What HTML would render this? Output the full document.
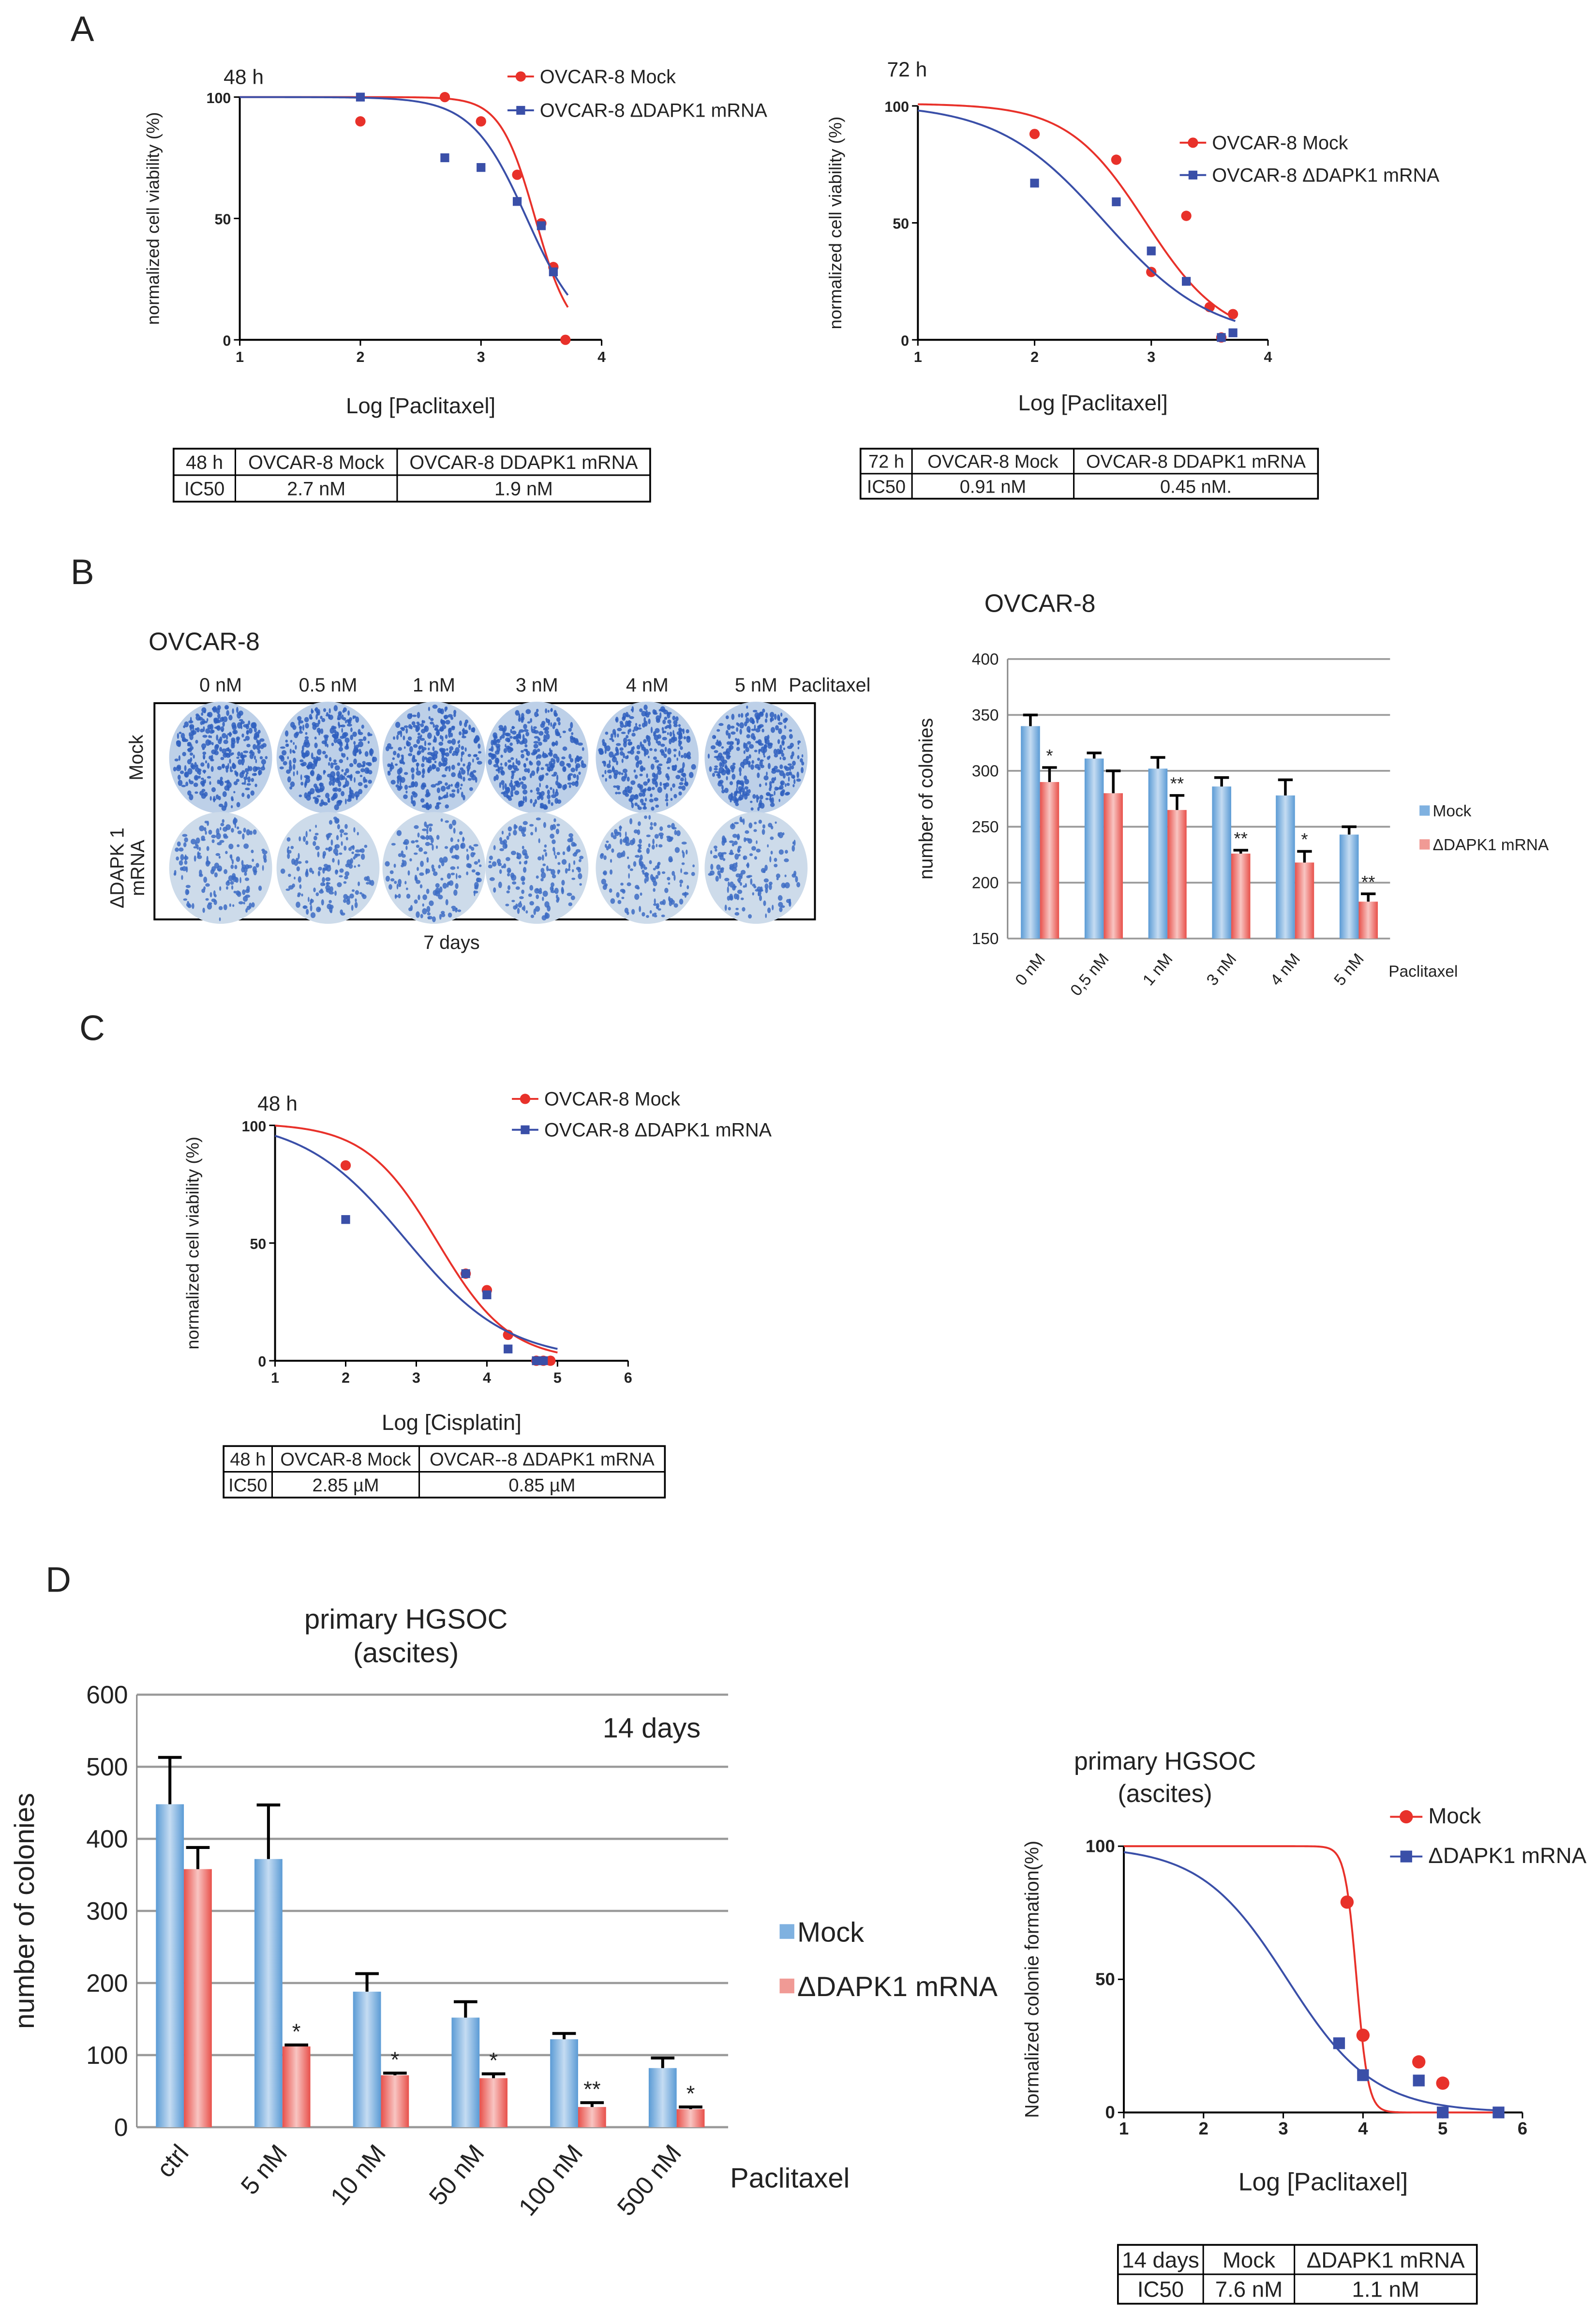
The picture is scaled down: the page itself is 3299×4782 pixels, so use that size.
<!DOCTYPE html>
<html><head><meta charset="utf-8"><style>
html,body{margin:0;padding:0;background:#fff}
svg{display:block}
text{font-family:"Liberation Sans",Arial,sans-serif;fill:#222}
</style></head><body>
<svg id="fig" xmlns="http://www.w3.org/2000/svg" width="3299" height="4782" viewBox="0 0 1085 1573" preserveAspectRatio="none"></svg>
<script>
// ---------- DATA ----------
const aLeftX=[2,2.7,3,3.3,3.5,3.6,3.7];
const aLeftMock=[90,100,90,68,48,30,0];
const aLeftBlueX=[2,2.7,3,3.3,3.5,3.6];
const aLeftBlue=[100,75,71,57,47,28];
const aRightX=[2,2.7,3,3.3,3.5,3.6,3.7];
const aRightMock=[88,77,29,53,14,1,11];
const aRightBlueX=[2,2.7,3,3.3,3.6,3.7];
const aRightBlue=[67,59,38,25,1,3];
const cMockX=[2,3.7,4,4.3,4.7,4.8,4.9];
const cMock=[83,37,30,11,0,0,0];
const cBlueX=[2,3.7,4,4.3,4.7,4.8];
const cBlue=[60,37,28,5,0,0];
const dRMockX=[3.8,4,4.7,5];
const dRMock=[79,29,19,11];
const dRBlueX=[3.7,4,4.7,5,5.7];
const dRBlue=[26,14,12,0,0];
const bCats=["0 nM","0,5 nM","1 nM","3 nM","4 nM","5 nM"];
const bMock=[340,311,302,286,278,243];
const bMockErr=[10,5,10,8,14,7];
const bDel=[290,280,265,226,218,183];
const bDelErr=[13,20,13,3,10,7];
const bStars=["*","","**","**","*","**"];
const bTicks=[150,200,250,300,350,400];
const dCats=["ctrl","5 nM","10 nM","50 nM","100 nM","500 nM"];
const dMock=[448,372,188,152,122,82];
const dMockErr=[65,75,25,22,8,14];
const dDel=[358,112,72,68,28,25];
const dDelErr=[30,2,3,6,6,3];
const dStars=["","*","*","*","**","*"];
const dTicks=[0,100,200,300,400,500,600];

const NS="http://www.w3.org/2000/svg";
const svg=document.getElementById('fig');
const RED="#e8312a", BLUE="#3a4fa8";
function mk(tag,attrs,parent){const e=document.createElementNS(NS,tag);for(const k in attrs)e.setAttribute(k,attrs[k]);(parent||svg).appendChild(e);return e;}
function txt(x,y,s,size,anchor,parent){const t=mk('text',{x:x,y:y,'font-size':size,'text-anchor':anchor||'start'},parent);t.textContent=s;return t;}

const defs=mk('defs',{});
function grad(id,c1,c2){const g=mk('linearGradient',{id:id,x1:0,y1:0,x2:1,y2:0},defs);mk('stop',{offset:0,'stop-color':c1},g);mk('stop',{offset:0.5,'stop-color':c2},g);mk('stop',{offset:1,'stop-color':c1},g);}
grad('gb','#5b9bd5','#c5dcf2');grad('gr','#e8504a','#f8c5c2');

[["A",48,28],["B",48,397],["C",54,707],["D",31,1082]].forEach(p=>{const t=txt(p[1],p[2],p[0],24);

});

function doseplot(o){
  const g=mk('g',{});
  
  
  const sx=v=>o.x0+(v-o.xmin)*(o.x1-o.x0)/(o.xmax-o.xmin);
  const sy=v=>o.y0-(v)*(o.y0-o.y100)/100;
  mk('line',{x1:o.x0,y1:o.y0,x2:o.x1,y2:o.y0,stroke:'#000','stroke-width':1.3},g);
  mk('line',{x1:o.x0,y1:o.y0,x2:o.x0,y2:o.y100,stroke:'#000','stroke-width':1.3},g);
  for(let v=o.xmin;v<=o.xmax;v++){mk('line',{x1:sx(v),y1:o.y0,x2:sx(v),y2:o.y0+4,stroke:'#000'},g);
    const t=txt(sx(v),o.y0+15,String(v),o.fs,'middle',g);t.setAttribute('font-weight','bold');
    
    }
  [0,50,100].forEach(v=>{mk('line',{x1:o.x0-4,y1:sy(v),x2:o.x0,y2:sy(v),stroke:'#000'},g);
    const t=txt(o.x0-6,sy(v)+4,String(v),o.fs,'end',g);t.setAttribute('font-weight','bold');
    
    });
  const yl=txt(0,0,o.ylabel,o.yfs,'middle',g);yl.setAttribute('transform',`translate(${o.ylx},${(o.y0+o.y100)/2}) rotate(-90)`);
  
  
  const xl=txt((o.x0+o.x1)/2,o.xly,o.xlabel,o.xfs,'middle',g);
  
  
  if(o.title){const tt=txt(o.tx,o.ty,o.title,o.tfs,'start',g);
    
    }
  o.series.forEach(s=>{
    let d='';for(let i=0;i<=200;i++){const x=o.xmin+(s.cx-o.xmin)*i/200;const y=s.top/(1+Math.pow(10,(x-s.ic)*s.h));d+=(i?'L':'M')+sx(x).toFixed(2)+','+sy(y).toFixed(2);}
    const p=mk('path',{d:d,fill:'none',stroke:s.color,'stroke-width':1.3},g);
    
    
    s.xs.forEach((x,i)=>{let m;
      if(s.shape==='c'){m=mk('circle',{cx:sx(x),cy:sy(s.ys[i]),r:o.ms/2+0.5,fill:s.color},g);}
      else{m=mk('rect',{x:sx(x)-o.ms/2,y:sy(s.ys[i])-o.ms/2,width:o.ms,height:o.ms,fill:s.color},g);}
      
      });
    const lg=mk('g',{},g);
    
    
    mk('line',{x1:s.lx,y1:s.ly,x2:s.lx+o.lw,y2:s.ly,stroke:s.color,'stroke-width':1.3},lg);
    if(s.shape==='c')mk('circle',{cx:s.lx+o.lw/2,cy:s.ly,r:o.ms/2+0.5,fill:s.color},lg);
    else mk('rect',{x:s.lx+o.lw/2-o.ms/2,y:s.ly-o.ms/2,width:o.ms,height:o.ms,fill:s.color},lg);
    txt(s.lx+o.lw+4,s.ly+4.5,s.label,o.lfs,'start',lg);
  });
}

doseplot({name:'panel-a-48h-chart',x0:163,x1:409,xmin:1,xmax:4,y0:231,y100:66,fs:10,ylabel:'normalized cell viability (%)',yfs:12,ylx:108,xlabel:'Log [Paclitaxel]',xfs:15,xly:281,title:'48 h',tx:152,ty:57,tfs:14,ms:6,lw:18,lfs:13,
 series:[{key:'mock',xs:aLeftX,ys:aLeftMock,color:RED,shape:'c',ic:3.45,h:3,top:100,cx:3.72,lx:345,ly:52,label:'OVCAR-8 Mock'},
         {key:'dapk1',xs:aLeftBlueX,ys:aLeftBlue,color:BLUE,shape:'s',ic:3.38,h:1.9,top:100,cx:3.72,lx:345,ly:75,label:'OVCAR-8 ΔDAPK1 mRNA'}]});
doseplot({name:'panel-a-72h-chart',x0:624,x1:862,xmin:1,xmax:4,y0:231,y100:72,fs:10,ylabel:'normalized cell viability (%)',yfs:12,ylx:572,xlabel:'Log [Paclitaxel]',xfs:15,xly:279,title:'72 h',tx:603,ty:52,tfs:14,ms:6,lw:18,lfs:13,
 series:[{key:'mock',xs:aRightX,ys:aRightMock,color:RED,shape:'c',ic:2.95,h:1.3,top:101,cx:3.72,lx:802,ly:97,label:'OVCAR-8 Mock'},
         {key:'dapk1',xs:aRightBlueX,ys:aRightBlue,color:BLUE,shape:'s',ic:2.6,h:0.95,top:101,cx:3.72,lx:802,ly:119,label:'OVCAR-8 ΔDAPK1 mRNA'}]});
doseplot({name:'panel-c-cisplatin-chart',x0:187,x1:427,xmin:1,xmax:6,y0:925,y100:765,fs:10,ylabel:'normalized cell viability (%)',yfs:12,ylx:135,xlabel:'Log [Cisplatin]',xfs:15,xly:972,title:'48 h',tx:175,ty:755,tfs:14,ms:6,lw:18,lfs:13,
 series:[{key:'mock',xs:cMockX,ys:cMock,color:RED,shape:'c',ic:3.3,h:0.85,top:101,cx:5,lx:348,ly:747,label:'OVCAR-8 Mock'},
         {key:'dapk1',xs:cBlueX,ys:cBlue,color:BLUE,shape:'s',ic:2.85,h:0.6,top:103,cx:5,lx:348,ly:768,label:'OVCAR-8 ΔDAPK1 mRNA'}]});
doseplot({name:'panel-d-dose-chart',x0:764,x1:1035,xmin:1,xmax:6,y0:1436,y100:1255,fs:12,ylabel:'Normalized colonie formation(%)',yfs:13,ylx:706,xlabel:'Log [Paclitaxel]',xfs:17,xly:1489,title:null,ms:8,lw:22,lfs:15,
 series:[{key:'mock',xs:dRMockX,ys:dRMock,color:RED,shape:'c',ic:3.92,h:6,top:100,cx:5.7,lx:945,ly:1235,label:'Mock'},
         {key:'dapk1',xs:dRBlueX,ys:dRBlue,color:BLUE,shape:'s',ic:3.05,h:0.8,top:100,cx:5.7,lx:945,ly:1262,label:'ΔDAPK1 mRNA'}]});
[["primary HGSOC",792,1203],["(ascites)",792,1225]].forEach(a=>{const t=txt(a[1],a[2],a[0],17,'middle');

});

function table(name,x,y,cols,rows,rh,fs){
  const g=mk('g',{});
  
  
  const w=cols[cols.length-1]-x;
  mk('rect',{x:x,y:y,width:w,height:rh*2,fill:'none',stroke:'#000','stroke-width':1.2},g);
  mk('line',{x1:x,y1:y+rh,x2:x+w,y2:y+rh,stroke:'#000','stroke-width':1},g);
  let xs=[x].concat(cols);
  for(let i=0;i<cols.length-1;i++)mk('line',{x1:cols[i],y1:y,x2:cols[i],y2:y+rh*2,stroke:'#000'},g);
  rows.forEach((r,ri)=>r.forEach((c,ci)=>{txt((xs[ci]+xs[ci+1])/2,y+rh*ri+rh/2+fs*0.36,c,fs,'middle',g);}));
}
table('panel-a-48h-ic50-table',118,305,[160,270,442],[["48 h","OVCAR-8 Mock","OVCAR-8 DDAPK1 mRNA"],["IC50","2.7 nM","1.9 nM"]],18,13);
table('panel-a-72h-ic50-table',585,305,[620,730,896],[["72 h","OVCAR-8 Mock","OVCAR-8 DDAPK1 mRNA"],["IC50","0.91 nM","0.45 nM."]],17,12.5);
table('panel-c-ic50-table',152,983,[185,285,452],[["48 h","OVCAR-8 Mock","OVCAR--8 ΔDAPK1 mRNA"],["IC50","2.85 µM","0.85 µM"]],17.5,12.5);
table('panel-d-ic50-table',760,1526,[818,880,1004],[["14 days","Mock","ΔDAPK1 mRNA"],["IC50","7.6 nM","1.1 nM"]],20,15);

(function(){
  const g=mk('g',{});
  
  
  mk('rect',{x:105,y:478,width:449,height:147,fill:'#fff',stroke:'#000','stroke-width':1.3},g);
  const cx=[150,223,295,365,440,514];const cy=[515,590];
  const lbl=["0 nM","0.5 nM","1 nM","3 nM","4 nM","5 nM"];
  let seed=7;const rnd=()=>{seed=(seed*16807)%2147483647;return seed/2147483647;};
  cy.forEach((yy,ri)=>cx.forEach((xx,ci)=>{
    const d=mk('g',{},g);
    
    
    mk('ellipse',{cx:xx,cy:yy,rx:35,ry:38,fill:ri?'#cddbea':'#bdd0e8'},d);
    const n=ri?160:300;
    for(let k=0;k<n;k++){const a=rnd()*6.283,r=Math.sqrt(rnd())*0.95;
      mk('ellipse',{cx:(xx+Math.cos(a)*r*34).toFixed(1),cy:(yy+Math.sin(a)*r*37).toFixed(1),rx:(0.6+rnd()*1.2).toFixed(1),ry:(0.8+rnd()*1.4).toFixed(1),fill:ri?'#3d6cc4':'#2f5fbe','fill-opacity':0.85},d);}
  }));
  lbl.forEach((l,i)=>{const t=txt(cx[i],470,l,13,'middle',g);
    
    });
  txt(564,470,'Paclitaxel',13,'middle',g);
  txt(101,442,'OVCAR-8',17,'start',g);
  txt(307,645,'7 days',13,'middle',g);
  const m=txt(0,0,'Mock',13,'middle',g);m.setAttribute('transform','translate(97,515) rotate(-90)');
  const d1=txt(0,0,'ΔDAPK 1',13,'middle',g);d1.setAttribute('transform','translate(84,590) rotate(-90)');
  const d2=txt(0,0,'mRNA',13,'middle',g);d2.setAttribute('transform','translate(98,590) rotate(-90)');
})();

function barchart(o){
  const g=mk('g',{});
  
  
  const sy=v=>o.y0-(v-o.ymin)*(o.y0-o.ytop)/(o.ymax-o.ymin);
  o.ticks.forEach(v=>{mk('line',{x1:o.x0,y1:sy(v),x2:o.x1,y2:sy(v),stroke:'#9a9a9a','stroke-width':o.gw},g);
    const t=txt(o.x0-6,sy(v)+o.fs*0.35,String(v),o.fs,'end',g);
    
    });
  mk('line',{x1:o.x0,y1:o.y0,x2:o.x0,y2:o.ytop,stroke:'#8a8a8a','stroke-width':1},g);
  const gw=(o.x1-o.x0)/o.cats.length;
  o.cats.forEach((c,i)=>{
    const gx=o.x0+gw*i+o.pad;
    [[o.mock,o.mockErr,'url(#gb)','mock'],[o.del,o.delErr,'url(#gr)','dapk1']].forEach((s,k)=>{
      const x=gx+k*o.bw;
      const r=mk('rect',{x:x,y:sy(s[0][i]),width:o.bw,height:o.y0-sy(s[0][i]),fill:s[2]},g);
      
      
      const top=sy(s[0][i]+s[1][i]);const xm=x+o.bw/2;
      const e=mk('path',{d:`M${xm},${sy(s[0][i])}V${top}M${xm-o.cap},${top}H${xm+o.cap}`,stroke:'#000','stroke-width':o.ew,fill:'none'},g);
      
      
    });
    if(o.stars[i]){const st=txt(gx+o.bw*1.5,sy(o.del[i]+o.delErr[i])-4,o.stars[i],o.sfs,'middle',g);
      
      }
    const cl=txt(0,0,c,o.cfs,'end',g);cl.setAttribute('transform',`translate(${gx+o.bw+4},${o.y0+o.cdy}) rotate(${o.rot})`);
    
    
  });
  o.legend.forEach((l,i)=>{const lg=mk('g',{},g);
    
    
    mk('rect',{x:l[0],y:l[1]-o.lsz/2,width:o.lsz,height:o.lsz,fill:i?'#f09a95':'#7fb1e0'},lg);
    txt(l[0]+o.lsz+2,l[1]+o.lfs*0.36,l[2],o.lfs,'start',lg);});
  const yl=txt(0,0,o.ylabel,o.yfs,'middle',g);yl.setAttribute('transform',`translate(${o.ylx},${(o.y0+o.ytop)/2}) rotate(-90)`);
  
  
}
barchart({name:'panel-b-colony-bar-chart',x0:685,x1:945,y0:638,ytop:448,ymin:150,ymax:400,ticks:bTicks,gw:1.2,fs:11,cats:bCats,mock:bMock,mockErr:bMockErr,del:bDel,delErr:bDelErr,stars:bStars,pad:9,bw:13,cap:5,ew:1.8,sfs:12,cfs:11,cdy:14,rot:-50,
 legend:[[965,551,'Mock'],[965,574,'ΔDAPK1 mRNA']],lsz:7,lfs:11,ylabel:'number of colonies',yfs:13,ylx:634});
const bt=txt(707,416,'OVCAR-8',17,'middle');


const bp=txt(944,664,'Paclitaxel',11,'start');



barchart({name:'panel-d-colony-bar-chart',x0:93,x1:495,y0:1446,ytop:1152,ymin:0,ymax:600,ticks:dTicks,gw:1.5,fs:17,cats:dCats,mock:dMock,mockErr:dMockErr,del:dDel,delErr:dDelErr,stars:dStars,pad:13,bw:19,cap:8,ew:2,sfs:15,cfs:17,cdy:18,rot:-50,
 legend:[[530,1313,'Mock'],[530,1350,'ΔDAPK1 mRNA']],lsz:10,lfs:19,ylabel:'number of colonies',yfs:19,ylx:23});
[["primary HGSOC",276,1107],["(ascites)",276,1130],["14 days",443,1181],["Paclitaxel",537,1487]].forEach((a,i)=>{const t=txt(a[1],a[2],a[0],19,'middle');

});
</script>
</body></html>
